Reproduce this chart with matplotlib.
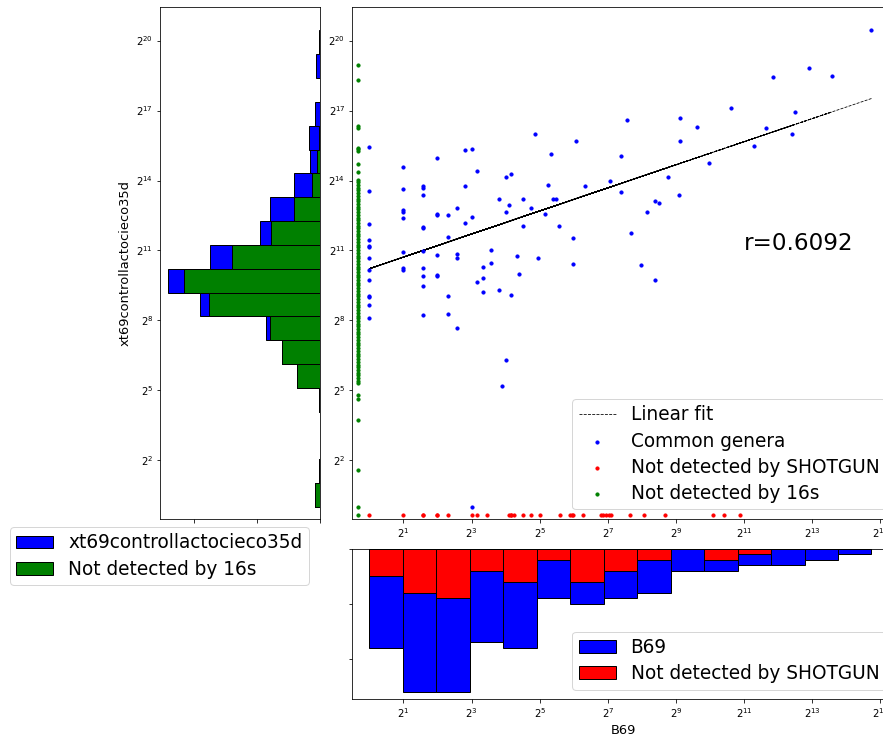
import numpy as np
import matplotlib
matplotlib.use("Agg")
import matplotlib.pyplot as plt
from matplotlib import ticker

# ---- data -------------------------------------------------------------
# genera found by both methods: (B69 abundance, xt69 abundance)
common_b69 = [27350, 7700, 3720, 12160, 1574, 5720, 190, 556, 792, 3190,
              5400, 29, 67, 556, 2510, 1, 8, 7, 40, 168,
              4, 1005, 2, 9, 18, 16, 437, 135, 38, 7,
              81, 3, 3, 1, 2, 168, 3, 545, 14, 23,
              42, 45, 335, 362, 17, 6, 27, 2, 2, 16,
              286, 4, 4, 5, 36, 2, 8, 7, 1, 23,
              47, 3, 3, 207, 5, 63, 1, 1, 1, 12,
              3, 2, 4, 6, 6, 20, 31, 1, 12, 10,
              63, 249, 2, 3, 1, 2, 1, 3, 4, 4,
              9, 10, 21, 335, 3, 14, 10, 18, 1, 1,
              5, 1, 3, 5, 1, 6, 16, 15, 8]
common_xt69 = [1422500, 459600, 350800, 365300, 140500, 125800, 100100, 104200, 79600, 77400,
               66000, 66000, 52500, 52500, 45100, 43800, 41800, 40600, 35900, 33500,
               32200, 27800, 24700, 21900, 19600, 18100, 18100, 16200, 14400, 13900,
               13900, 13900, 13000, 11900, 12900, 11600, 10600, 10700, 9500, 9500,
               9500, 9500, 8850, 8500, 7850, 7240, 7240, 6760, 6430, 6500,
               6500, 5990, 5830, 5830, 5990, 5370, 5590, 4630, 4450, 4280,
               4280, 4100, 3950, 3400, 3050, 2930, 2820, 2330, 2260, 2090,
               2010, 1930, 1780, 1860, 1660, 1730, 1660, 1660, 1430, 1270,
               1380, 1320, 1220, 1220, 1140, 1130, 861, 970, 1000, 970,
               796, 898, 1010, 861, 714, 639, 591, 545, 530, 509,
               530, 404, 298, 309, 277, 204, 79, 37, 1]

# placeholder abundance used for "not detected"
not_detected = 0.8

# B69 abundance of genera missing from the shotgun sample
no_shotgun_b69 = [1, 2, 3, 3, 4, 4, 5, 8, 9, 11, 17, 18, 18, 19, 23, 27, 32,
                  48, 59, 62, 63, 77, 111, 117, 124, 130, 136, 202, 265, 407,
                  1090, 1360, 1870]

# log2 of xt69 abundance of genera missing from 16s
no_16s_log2_xt69 = [18.97, 18.32, 16.34, 16.27, 15.41, 15.34, 15.26, 14.69, 14.37,
                    14.04, 13.93, 13.80, 13.70, 13.58, 13.47, 13.35, 13.22, 13.12, 13.00,
                    12.88, 12.77, 12.65, 12.52, 12.41, 12.30, 12.18, 12.06, 11.95, 11.83,
                    11.71, 11.60, 11.48, 11.36, 11.25, 11.13, 11.02, 10.90, 10.78, 10.66,
                    10.55, 10.43, 10.31, 10.20, 10.08, 9.97, 9.85, 9.73, 9.62, 9.50,
                    9.38, 9.27, 9.15, 9.03, 8.92, 8.80, 8.68, 8.57, 8.45, 8.33,
                    8.21, 8.10, 7.98, 7.86, 7.75, 7.63, 7.51, 7.40, 7.28, 7.16,
                    7.05, 6.93, 6.81, 6.70, 6.58, 6.46, 6.35, 6.23, 6.11, 6.00,
                    5.88, 5.76, 5.65, 5.53, 5.41, 5.31, 4.80, 4.65, 3.72, 1.57, 0.0]

# linear fit in log2-log2 space and its correlation
fit_slope = 0.495
fit_intercept = 10.22
r_value = 0.6092

# histogram counts (15 log bins over B69, 20 log bins over xt69)
b69_counts = [18, 26, 26, 17, 18, 9, 10, 9, 8, 4, 4, 3, 3, 2, 1]
b69_no_shotgun_counts = [5, 8, 9, 4, 6, 2, 6, 4, 2, 0, 2, 1, 0, 0, 0]
xt69_counts = [4, 1, 0, 0, 1, 18, 30, 43, 95, 121, 87, 48, 40, 21, 8, 9, 4, 0, 3, 1]
xt69_no_16s_counts = [4, 1, 0, 0, 1, 18, 30, 40, 88, 108, 70, 39, 21, 6, 2, 1, 0, 0, 0, 0]

# ---- figure -----------------------------------------------------------
W, H = 883, 742
fig = plt.figure(figsize=(W / 72, H / 72), dpi=72)

LEG = dict(fontsize=18.5, labelspacing=0.39, borderpad=0.35)


def px_axes(left, top, right, bottom):
    return fig.add_axes([left / W, 1 - bottom / H, (right - left) / W, (bottom - top) / H])


AX_RIGHT = 895
ax = px_axes(352.3, 7, AX_RIGHT, 518.7)
ax_left = px_axes(160, 7, 320, 518.7)
ax_bot = px_axes(352.3, 549, AX_RIGHT, 699)

cx = np.array(common_b69, float)
cy = np.array(common_xt69, float)
max_x = max(cx.max(), max(no_shotgun_b69))
max_y = cy.max()
g_y = 2.0 ** np.array(no_16s_log2_xt69)

# fit line drawn through the data order (segments overlap)
fit_y = 2.0 ** (fit_intercept + fit_slope * np.log2(cx))
ax.plot(cx, fit_y, color="black", linestyle="--", linewidth=0.8, label="Linear fit")
ax.scatter(cx, cy, s=10, color="blue", label="Common genera", zorder=3)
ax.scatter(no_shotgun_b69, [not_detected] * len(no_shotgun_b69), s=10, color="red",
           label="Not detected by SHOTGUN", zorder=3)
ax.scatter([not_detected] * (len(g_y) + 1), list(g_y) + [not_detected], s=10,
           color="green", label="Not detected by 16s", zorder=3)

ax.set_xscale("log", base=2)
ax.set_yscale("log", base=2)
ax.set_xlim(2 ** -0.5, 2 ** 15.43)
ax.set_ylim(2 ** -0.5, 2 * max_y)
fmt = ticker.LogFormatterMathtext(base=2)
xt = [2.0 ** k for k in range(1, 16, 2)]
yt = [2.0 ** k for k in range(2, 21, 3)]
ax.xaxis.set_major_locator(ticker.FixedLocator(xt))
ax.xaxis.set_major_formatter(fmt)
ax.xaxis.set_minor_locator(ticker.NullLocator())
ax.yaxis.set_major_locator(ticker.FixedLocator(yt))
ax.yaxis.set_major_formatter(fmt)
ax.yaxis.set_minor_locator(ticker.NullLocator())
ax.text(2048, 2048, f"r={r_value}", fontsize=23)
ax.legend(loc="lower right", **LEG)

# left histogram of xt69
y_edges = np.logspace(0, np.log2(max_y), len(xt69_counts) + 1, base=2)
ax_left.barh(y_edges[:-1], xt69_counts, height=np.diff(y_edges), align="edge",
             color="blue", edgecolor="black", label="xt69controllactocieco35d")
ax_left.barh(y_edges[:-1], xt69_no_16s_counts, height=np.diff(y_edges), align="edge",
             color="green", edgecolor="black", label="Not detected by 16s")
ax_left.set_yscale("log", base=2)
ax_left.yaxis.set_major_locator(ticker.FixedLocator(yt))
ax_left.yaxis.set_major_formatter(fmt)
ax_left.yaxis.set_minor_locator(ticker.NullLocator())
ax_left.set_ylim(ax.get_ylim())
ax_left.set_xlim(max(xt69_counts) * 1.05, 0)
ax_left.set_xticks([0, 50, 100])
ax_left.set_xticklabels([])
ax_left.set_ylabel("xt69controllactocieco35d", fontsize=13)
ax_left.legend(loc="upper left", bbox_to_anchor=(10 / W, 1 - 527 / H),
               bbox_transform=fig.transFigure, borderaxespad=0, **LEG)

# bottom histogram of B69
x_edges = np.logspace(0, np.log2(max_x), len(b69_counts) + 1, base=2)
ax_bot.bar(x_edges[:-1], b69_counts, width=np.diff(x_edges), align="edge",
           color="blue", edgecolor="black", label="B69")
ax_bot.bar(x_edges[:-1], b69_no_shotgun_counts, width=np.diff(x_edges), align="edge",
           color="red", edgecolor="black", label="Not detected by SHOTGUN")
ax_bot.set_xscale("log", base=2)
ax_bot.xaxis.set_major_locator(ticker.FixedLocator(xt))
ax_bot.xaxis.set_major_formatter(fmt)
ax_bot.xaxis.set_minor_locator(ticker.NullLocator())
ax_bot.set_xlim(ax.get_xlim())
ax_bot.set_ylim(max(b69_counts) * 1.05, 0)
ax_bot.set_yticks([0, 10, 20])
ax_bot.set_yticklabels([])
ax_bot.set_xlabel("B69", fontsize=13)
ax_bot.legend(loc="lower right", **LEG)

fig.savefig("out.png", dpi=72)
